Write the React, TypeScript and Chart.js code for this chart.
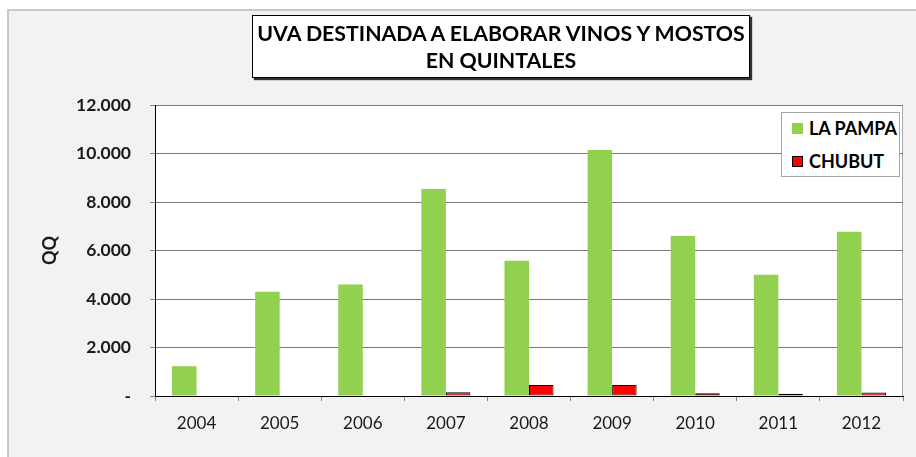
import React, { useEffect, useRef } from "react";
import { Chart, registerables } from "chart.js";

Chart.register(...registerables);

const years = ["2004", "2005", "2006", "2007", "2008", "2009", "2010", "2011", "2012"];
const laPampa = [1230, 4300, 4600, 8540, 5580, 10140, 6600, 5000, 6770];
const chubut = [0, 0, 0, 150, 450, 450, 110, 90, 140];
const seriesNames = ["LA PAMPA", "CHUBUT"];
const titleLines = ["UVA DESTINADA A ELABORAR VINOS Y MOSTOS", "EN QUINTALES"];
const yAxisTitle = "QQ";
const yTickValues = [0, 2000, 4000, 6000, 8000, 10000, 12000];

const FONT = "Lato, 'Open Sans', sans-serif";
const GREEN = "#92d050";
const RED = "#ff0000";

function fmtThousands(v: number): string {
  if (v === 0) return "-";
  const s = Math.round(v).toString();
  return s.replace(/\B(?=(\d{3})+(?!\d))/g, ".");
}

const plotBg = {
  id: "plotBg",
  beforeDraw(chart: any) {
    const { ctx, chartArea } = chart;
    if (!chartArea) return;
    ctx.save();
    ctx.fillStyle = "#ffffff";
    ctx.fillRect(chartArea.left, chartArea.top, chartArea.right - chartArea.left, chartArea.bottom - chartArea.top);
    ctx.strokeStyle = "#a6a6a6";
    ctx.lineWidth = 1;
    ctx.beginPath();
    const x = Math.round(chartArea.right) - 0.5;
    ctx.moveTo(x, chartArea.top);
    ctx.lineTo(x, chartArea.bottom);
    ctx.stroke();
    ctx.restore();
  },
};

export default function App() {
  const ref = useRef<HTMLCanvasElement | null>(null);

  useEffect(() => {
    if (!ref.current) return;
    const chart = new Chart(ref.current, {
      type: "bar",
      data: {
        labels: years,
        datasets: [
          {
            label: seriesNames[0],
            data: laPampa,
            backgroundColor: GREEN,
            borderWidth: 0,
            barPercentage: 1,
            categoryPercentage: 0.59,
          },
          {
            label: seriesNames[1],
            data: chubut,
            backgroundColor: RED,
            borderColor: "#000000",
            borderWidth: 1,
            borderSkipped: false,
            barPercentage: 1,
            categoryPercentage: 0.59,
          },
        ],
      },
      options: {
        responsive: false,
        devicePixelRatio: 1,
        animation: false,
        layout: { padding: { top: 105, right: 13, left: 0, bottom: 0 } },
        plugins: {
          legend: { display: false },
          title: { display: false },
          tooltip: { enabled: false },
        },
        scales: {
          x: {
            offset: true,
            grid: {
              offset: true,
              drawOnChartArea: false,
              drawTicks: true,
              tickLength: 5,
              color: "#868686",
            },
            border: { display: true, color: "#000000", width: 1 },
            ticks: {
              color: "#1a1a1a",
              font: { family: FONT, size: 17, weight: "normal" },
              padding: 12,
              maxRotation: 0,
            },
            afterFit(s: any) {
              s.height = 61;
            },
          },
          y: {
            min: 0,
            max: 12000,
            afterBuildTicks(s: any) {
              s.ticks = yTickValues.map((v) => ({ value: v }));
            },
            grid: {
              color: "#7a7a7a",
              lineWidth: 1,
              drawTicks: true,
              tickLength: 5,
              tickColor: "#868686",
            },
            border: { display: true, color: "#000000", width: 1 },
            ticks: {
              color: "#1a1a1a",
              font: { family: FONT, size: 17.5, weight: "bold" },
              padding: 19,
              callback: (v: any) => fmtThousands(Number(v)),
            },
            title: {
              display: true,
              text: yAxisTitle,
              color: "#1a1a1a",
              font: { family: FONT, size: 18, weight: "bold" },
              padding: { top: 39, bottom: 0 },
            },
            afterFit(s: any) {
              s.width = 155;
            },
          },
        },
      },
      plugins: [plotBg],
    });
    return () => chart.destroy();
  }, []);

  return (
    <div style={{ position: "absolute", left: 0, top: 0, width: 916, height: 457, overflow: "hidden", fontFamily: FONT }}>
      <div
        style={{
          position: "absolute",
          left: 7,
          top: 9,
          width: 909,
          height: 448,
          boxSizing: "border-box",
          background: "#f2f2f2",
          borderTop: "2px solid #c9c9c9",
          borderLeft: "2px solid #c9c9c9",
        }}
      />
      <canvas ref={ref} width={916} height={457} style={{ position: "absolute", left: 0, top: 0, width: 916, height: 457 }} />
      <div
        style={{
          position: "absolute",
          left: 252,
          top: 15,
          width: 498,
          height: 63,
          boxSizing: "border-box",
          border: "1px solid #000",
          background: "#fff",
          boxShadow: "2px 2px 1px rgba(0,0,0,0.8)",
          textAlign: "center",
          fontWeight: "bold",
          fontSize: 21.3,
          lineHeight: "27px",
          paddingTop: 4,
          color: "#000",
          whiteSpace: "nowrap",
        }}
      >
        {titleLines.map((t, i) => (
          <div key={i}>{t}</div>
        ))}
      </div>
      <div
        style={{
          position: "absolute",
          left: 781,
          top: 112,
          width: 119,
          height: 65,
          boxSizing: "border-box",
          border: "1px solid #a6a6a6",
          background: "#fff",
        }}
      >
        {seriesNames.map((name, i) => (
          <div
            key={name}
            style={{
              position: "absolute",
              left: 10,
              top: i === 0 ? 5 : 38,
              height: 20,
              display: "flex",
              alignItems: "center",
              fontWeight: "bold",
              fontSize: 18,
              color: "#000",
              whiteSpace: "nowrap",
            }}
          >
            <span
              style={{
                display: "inline-block",
                width: 11,
                height: 11,
                boxSizing: "border-box",
                background: i === 0 ? GREEN : RED,
                border: i === 0 ? "none" : "1px solid #000",
                marginRight: 6,
              }}
            />
            <span>{name}</span>
          </div>
        ))}
      </div>
    </div>
  );
}
